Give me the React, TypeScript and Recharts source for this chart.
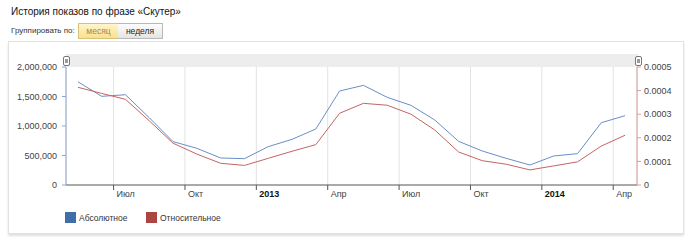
import { LineChart, Line, XAxis, YAxis, CartesianGrid } from 'recharts';

// monthly impressions for the phrase, May 2012 .. Apr 2014
const months = [
  '2012-05', '2012-06', '2012-07', '2012-08', '2012-09', '2012-10', '2012-11', '2012-12',
  '2013-01', '2013-02', '2013-03', '2013-04', '2013-05', '2013-06', '2013-07', '2013-08',
  '2013-09', '2013-10', '2013-11', '2013-12', '2014-01', '2014-02', '2014-03', '2014-04',
];

const absolute = [
  1750000, 1503000, 1530000, 1140000, 735000, 622000, 458000, 446000,
  650000, 774000, 949000, 1593000, 1689000, 1486000, 1350000, 1102000,
  740000, 576000, 452000, 339000, 492000, 531000, 1056000, 1175000,
];

const relative = [
  0.000414, 0.000388, 0.000363, 0.000272, 0.000177, 0.000131, 0.000092, 0.000083,
  0.000113, 0.000143, 0.000171, 0.000304, 0.000346, 0.000338, 0.0003, 0.000233,
  0.00014, 0.000103, 0.000088, 0.000064, 0.000081, 0.000098, 0.000165, 0.000211,
];

const tickMonths = ['2012-07', '2012-10', '2013-01', '2013-04', '2013-07', '2013-10', '2014-01', '2014-04'];
const tickLabels = ['Июл', 'Окт', '2013', 'Апр', 'Июл', 'Окт', '2014', 'Апр'];

const leftTicks = [0, 500000, 1000000, 1500000, 2000000];
const rightTicks = [0, 0.0001, 0.0002, 0.0003, 0.0004, 0.0005];

const COLORS = {
  absolute: '#6a8ec6',
  relative: '#c46464',
  absoluteLegend: '#3f6ea9',
  relativeLegend: '#ac4441',
};

const FONT = '"Liberation Sans", Arial, sans-serif';

// months since Jan 2012
const monthIndex = (m: string) => {
  const [y, mo] = m.split('-').map(Number);
  return (y - 2012) * 12 + (mo - 1);
};

const data = months.map((m, i) => ({
  x: monthIndex(m) + 0.5,
  abs: absolute[i],
  rel: relative[i],
}));

const xTicks = tickMonths.map(monthIndex);

function MonthTick(props: any) {
  const { x, y, payload } = props;
  const i = xTicks.indexOf(payload.value);
  const label = tickLabels[i] ?? '';
  const isYear = /^\d+$/.test(label);
  return (
    <text
      x={x + 3}
      y={y + 5}
      textAnchor="start"
      fontSize={9}
      fontFamily={FONT}
      fontWeight={isYear ? 'bold' : 'normal'}
      fill={isYear ? '#111' : '#444'}
    >
      {label}
    </text>
  );
}

function Handle({ left }: { left: number }) {
  return (
    <div
      style={{
        position: 'absolute',
        left,
        top: 56,
        width: 5,
        height: 8,
        border: '1px solid #777',
        borderRadius: 2,
        background: '#fff',
      }}
    >
      <div style={{ position: 'absolute', left: 1, top: 2, width: 3, height: 4, background: '#999' }} />
    </div>
  );
}

export default function App() {
  return (
    <div style={{ position: 'absolute', left: 0, top: 0, width: 689, height: 247, fontFamily: FONT, background: '#fff' }}>
      <div style={{ position: 'absolute', left: 11, top: 6, fontSize: 10, color: '#111' }}>
        История показов по фразе «Скутер»
      </div>
      <div style={{ position: 'absolute', left: 11, top: 26, fontSize: 8, color: '#333' }}>Группировать по:</div>
      <div
        style={{
          position: 'absolute',
          left: 78,
          top: 23,
          width: 39,
          height: 14,
          boxSizing: 'content-box',
          border: '1px solid #d4c17c',
          background: 'linear-gradient(#fff5cc, #fbe08d)',
          fontSize: 8.5,
          color: '#9a8a5c',
          textAlign: 'center',
          lineHeight: '14px',
        }}
      >
        месяц
      </div>
      <div
        style={{
          position: 'absolute',
          left: 118,
          top: 23,
          width: 44,
          height: 14,
          border: '1px solid #b8b8b8',
          borderLeft: 'none',
          background: 'linear-gradient(#fdfdfd, #e4e4e4)',
          fontSize: 8.5,
          color: '#222',
          textAlign: 'center',
          lineHeight: '14px',
        }}
      >
        неделя
      </div>

      <div
        style={{
          position: 'absolute',
          left: 8,
          top: 41,
          width: 674,
          height: 191,
          border: '1px solid #e2e2e2',
          boxShadow: '0 2px 2px rgba(0,0,0,0.12)',
          background: '#fff',
        }}
      />
      <div style={{ position: 'absolute', left: 66, top: 54, width: 572, height: 13, background: '#ededed' }} />

      <div style={{ position: 'absolute', left: 0, top: 0 }}>
        <LineChart width={689} height={247} data={data} margin={{ top: 67, right: 0, bottom: 32, left: 0 }}>
          <CartesianGrid yAxisId="left" horizontal={false} stroke="#e2e2e2" />
          <XAxis
            dataKey="x"
            type="number"
            domain={[4, 28]}
            ticks={xTicks}
            interval={0}
            allowDataOverflow
            height={30}
            stroke="#555"
            tickSize={5}
            tick={<MonthTick />}
          />
          <YAxis
            yAxisId="left"
            orientation="left"
            width={66}
            domain={[0, 2000000]}
            ticks={leftTicks}
            interval={0}
            tickSize={4}
            tickMargin={5}
            stroke="#8ea6cf"
            tick={{ fontSize: 9, fontFamily: FONT, fill: '#444' }}
            tickFormatter={(v: number) => v.toLocaleString('en-US')}
          />
          <YAxis
            yAxisId="right"
            orientation="right"
            width={52}
            domain={[0, 0.0005]}
            ticks={rightTicks}
            interval={0}
            tickSize={4}
            tickMargin={3}
            stroke="#dc9a9a"
            tick={{ fontSize: 9, fontFamily: FONT, fill: '#444' }}
            tickFormatter={(v: number) => (v === 0 ? '0' : v.toFixed(4))}
          />
          <Line
            yAxisId="left"
            dataKey="abs"
            stroke={COLORS.absolute}
            strokeWidth={1}
            dot={false}
            activeDot={false}
            type="linear"
            isAnimationActive={false}
          />
          <Line
            yAxisId="right"
            dataKey="rel"
            stroke={COLORS.relative}
            strokeWidth={1}
            dot={false}
            activeDot={false}
            type="linear"
            isAnimationActive={false}
          />
        </LineChart>
      </div>

      <Handle left={63} />
      <Handle left={635} />

      <div style={{ position: 'absolute', left: 65, top: 212, display: 'flex', alignItems: 'center', fontSize: 8.5, color: '#333' }}>
        <span style={{ width: 11, height: 11, background: COLORS.absoluteLegend, display: 'inline-block', marginRight: 3 }} />
        <span style={{ width: 67 }}>Абсолютное</span>
        <span style={{ width: 11, height: 11, background: COLORS.relativeLegend, display: 'inline-block', marginRight: 3 }} />
        <span>Относительное</span>
      </div>
    </div>
  );
}
